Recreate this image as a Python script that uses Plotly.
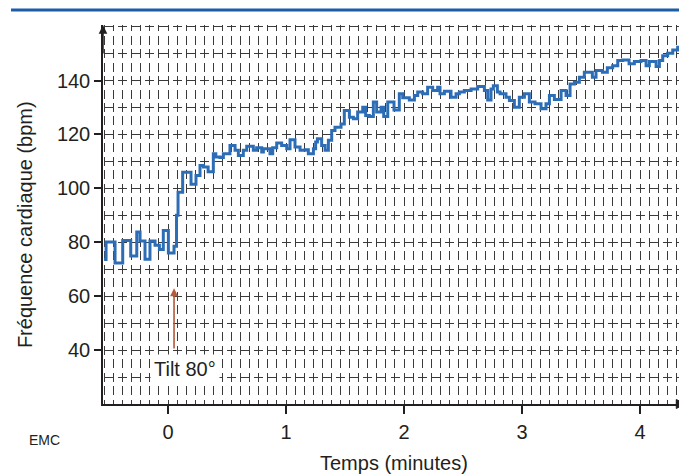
import plotly.graph_objects as go

# Heart-rate step trace (time in minutes, bpm)
time_min = [-0.542, -0.525, -0.449, -0.384, -0.316, -0.265, -0.237, -0.195, -0.153, -0.110,
            -0.073, -0.040, 0.003, 0.051, 0.072, 0.085, 0.124, 0.195, 0.237, 0.271,
            0.300, 0.340, 0.384, 0.405, 0.441, 0.469, 0.525, 0.568, 0.596, 0.638,
            0.667, 0.723, 0.751, 0.794, 0.808, 0.864, 0.887, 0.921, 0.963, 1.006,
            1.034, 1.076, 1.119, 1.161, 1.189, 1.232, 1.251, 1.266, 1.302, 1.331,
            1.359, 1.387, 1.415, 1.466, 1.494, 1.537, 1.571, 1.607, 1.650, 1.675,
            1.706, 1.740, 1.768, 1.805, 1.828, 1.862, 1.915, 1.960, 1.989, 2.045,
            2.088, 2.116, 2.158, 2.200, 2.243, 2.285, 2.305, 2.342, 2.398, 2.441,
            2.469, 2.511, 2.568, 2.624, 2.681, 2.709, 2.737, 2.757, 2.791, 2.814,
            2.864, 2.893, 2.935, 2.977, 3.020, 3.062, 3.110, 3.161, 3.203, 3.232,
            3.274, 3.331, 3.373, 3.407, 3.444, 3.486, 3.528, 3.596, 3.627, 3.681,
            3.723, 3.768, 3.811, 3.853, 3.907, 3.952, 4.008, 4.051, 4.079, 4.136,
            4.164, 4.192, 4.234, 4.277, 4.319, 4.340]
heart_rate = [73.6, 80.1, 72.3, 80.7, 74.9, 83.8, 80.5, 73.7, 80.5, 78.9,
              77.3, 84.4, 76.0, 78.5, 90.0, 98.6, 106.0, 101.5, 104.8, 108.5,
              107.9, 106.2, 112.8, 111.6, 111.4, 112.8, 115.9, 114.1, 112.2, 114.1,
              115.6, 114.1, 115.1, 113.5, 114.7, 112.8, 115.1, 116.8, 115.9, 114.7,
              118.0, 115.3, 114.1, 114.3, 112.8, 114.7, 117.2, 118.4, 115.9, 114.1,
              117.8, 121.5, 122.7, 123.9, 128.9, 126.4, 125.8, 128.3, 130.1, 127.0,
              126.7, 132.0, 128.3, 130.1, 126.7, 132.0, 129.1, 135.1, 133.6, 132.8,
              134.4, 135.7, 135.1, 137.5, 136.3, 137.5, 135.1, 136.0, 133.8, 135.1,
              135.7, 136.3, 136.9, 137.8, 136.3, 132.8, 136.9, 138.1, 135.7, 135.1,
              133.8, 132.6, 130.1, 133.8, 135.1, 132.0, 131.4, 129.5, 131.4, 134.4,
              133.0, 136.3, 134.4, 138.7, 139.4, 141.2, 143.1, 141.2, 143.7, 143.1,
              144.7, 145.5, 147.4, 147.6, 146.2, 147.1, 147.4, 145.5, 147.1, 145.2,
              147.4, 149.2, 150.1, 151.3, 152.3, 152.3]

x_ticks = [0, 1, 2, 3, 4]
y_ticks = [40, 60, 80, 100, 120, 140]
y_minor = [30, 50, 70, 90, 110, 130, 150, 160]
tilt_time = 0.051
tilt_from, tilt_to = 40, 62.9

ink = "#231f20"
gridc = "#3a3a3a"
font = "Liberation Sans, Arial, sans-serif"
vdash = "6.1px,4.48px,2.9px,0px"      # vertical grid dashes
hdash = "0px,1.48px,9.08px,3.06px"    # horizontal grid dashes

fig = go.Figure()
fig.add_trace(go.Scatter(x=time_min, y=heart_rate, mode="lines",
                         line=dict(shape="hv", color="#2d6db5", width=3),
                         hoverinfo="skip", showlegend=False))

# page body has an 8px margin: figure is sized/offset to fit the 687x476 window
fig.update_layout(
    width=679, height=468,
    margin=dict(l=95, r=2, t=17, b=72, pad=0),
    paper_bgcolor="white", plot_bgcolor="white",
    font=dict(family=font, color=ink, size=20),
    xaxis=dict(range=[-0.551, 4.381], tickmode="array", tickvals=x_ticks,
               ticks="outside", ticklen=8, tickwidth=1.5, tickcolor=ink,
               showline=True, linecolor=ink, linewidth=1.5, zeroline=False,
               showgrid=True, gridcolor=gridc, gridwidth=1, griddash=vdash,
               minor=dict(tick0=0, dtick=1/13, showgrid=True, gridcolor=gridc,
                          gridwidth=1, griddash=vdash, ticks=""),
               tickfont=dict(size=20, color=ink), ticklabelstandoff=1),
    yaxis=dict(range=[20, 160.6], tickmode="array", tickvals=y_ticks,
               ticks="outside", ticklen=7, tickwidth=1.5, tickcolor=ink,
               showline=True, linecolor=ink, linewidth=1.5, zeroline=False,
               showgrid=True, gridcolor=gridc, gridwidth=1, griddash=hdash,
               minor=dict(tickmode="array", tickvals=y_minor, showgrid=True,
                          gridcolor=gridc, gridwidth=1, griddash=hdash, ticks=""),
               tickfont=dict(size=20, color=ink), ticklabelstandoff=0),
)

fig.add_shape(type="line", xref="paper", yref="paper", x0=-0.158, x1=1.004,
              y0=1.0396, y1=1.0396, line=dict(color="#1c5ea6", width=3))
# x-axis arrowhead
fig.add_shape(type="path", xref="paper", yref="paper", xsizemode="pixel", ysizemode="pixel",
              xanchor=0.985, yanchor=0, path="M 0,-4.5 L 9,0 L 0,4.5 Z",
              fillcolor=ink, line=dict(color=ink, width=1))

ann = [
    dict(text="Fréquence cardiaque (bpm)", xref="paper", yref="paper", x=-0.134, y=0.472,
         xanchor="center", yanchor="middle",
         textangle=-90, showarrow=False, font=dict(size=20, color=ink)),
    dict(text="Temps (minutes)", xref="paper", yref="paper", x=0.5, y=-0.1557,
         xanchor="center", yanchor="middle",
         showarrow=False, font=dict(size=20, color=ink)),
    dict(text="Tilt 80°", xref="x", yref="y", x=0.14, y=33.0, showarrow=False,
         xanchor="center", yanchor="middle",
         bgcolor="white", borderpad=3, font=dict(size=20, color=ink)),
    dict(text="", xref="x", yref="y", x=tilt_time, y=tilt_to, axref="x", ayref="y",
         ax=tilt_time, ay=tilt_from, showarrow=True, arrowhead=2, arrowsize=1.0,
         arrowwidth=1.6, arrowcolor="#b55a3a"),
    dict(text="", xref="paper", yref="paper", x=0, y=1.0, ax=0, ay=30,
         showarrow=True, arrowhead=2, arrowsize=1.15, arrowwidth=1.5, arrowcolor=ink),
    dict(text="EMC", xref="paper", yref="paper", x=-0.0997, y=-0.095, showarrow=False,
         xanchor="center", yanchor="middle",
         font=dict(size=14, color=ink, family="Liberation Sans Narrow, Liberation Sans")),
]
fig.update_layout(annotations=ann)

fig.write_html("out.html")
